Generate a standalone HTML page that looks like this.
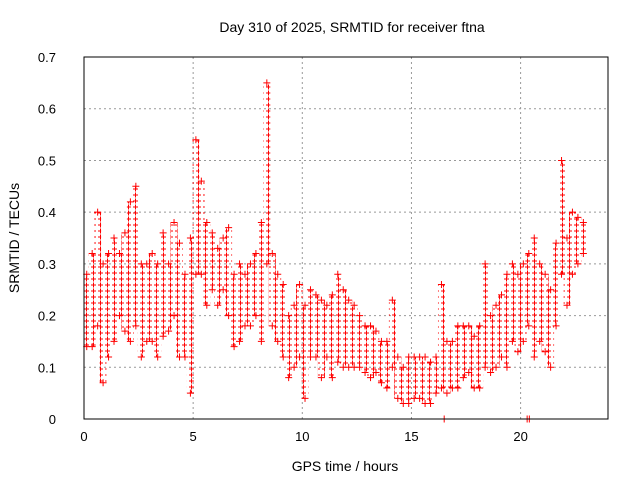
<!DOCTYPE html>
<html><head><meta charset="utf-8"><style>
body{margin:0;background:#fff}
svg{display:block;font-family:"Liberation Sans",sans-serif}
</style></head><body>
<svg id="c" width="640" height="480">
<defs>
<pattern id="pp" width="7" height="6" patternUnits="userSpaceOnUse">
<path d="M0 3h5M2.5 0.5v5" stroke="#f00" stroke-width="1" fill="none"/>
</pattern>
</defs>
<text x="352" y="32" font-size="14" text-anchor="middle">Day 310 of 2025, SRMTID for receiver ftna</text>
<text x="345" y="471" font-size="14" text-anchor="middle">GPS time / hours</text>
<text transform="translate(19,238) rotate(-90)" font-size="14" text-anchor="middle">SRMTID / TECUs</text>
<g id="grid"></g><g id="marks"></g>
<rect x="84" y="57" width="524" height="362" fill="none" stroke="#000" stroke-width="1"/>
</svg>
<script>
const times=[0,0.25,0.5,0.75,1,1.25,1.5,1.75,2,2.25,2.5,2.75,3,3.25,3.5,3.75,4,4.25,4.5,4.75,5,5.25,5.5,5.75,6,6.25,6.5,6.75,7,7.25,7.5,7.75,8,8.25,8.5,8.75,9,9.25,9.5,9.75,10,10.25,10.5,10.75,11,11.25,11.5,11.75,12,12.25,12.5,12.75,13,13.25,13.5,13.75,14,14.25,14.5,14.75,15,15.25,15.5,15.75,16,16.25,16.5,16.75,17,17.25,17.5,17.75,18,18.25,18.5,18.75,19,19.25,19.5,19.75,20,20.25,20.5,20.75,21,21.25,21.5,21.75,22,22.25,22.5,22.75];
const lowVals=[0.14,0.14,0.18,0.07,0.12,0.15,0.20,0.17,0.15,0.18,0.12,0.15,0.15,0.12,0.16,0.17,0.20,0.12,0.12,0.05,0.28,0.28,0.22,0.25,0.22,0.25,0.20,0.14,0.15,0.18,0.18,0.20,0.15,0.30,0.18,0.15,0.12,0.08,0.10,0.12,0.04,0.12,0.12,0.08,0.12,0.08,0.11,0.10,0.10,0.10,0.10,0.09,0.08,0.09,0.07,0.06,0.10,0.04,0.03,0.03,0.04,0.04,0.03,0.03,0.05,0.06,0.05,0.06,0.06,0.08,0.09,0.06,0.06,0.10,0.09,0.10,0.12,0.10,0.15,0.13,0.15,0.18,0.12,0.15,0.13,0.10,0.18,0.28,0.22,0.28,0.30,0.32];
const highVals=[0.28,0.32,0.40,0.30,0.32,0.35,0.32,0.36,0.42,0.45,0.30,0.30,0.32,0.30,0.36,0.30,0.38,0.34,0.28,0.35,0.54,0.46,0.38,0.36,0.33,0.35,0.37,0.28,0.30,0.28,0.30,0.32,0.38,0.65,0.32,0.28,0.26,0.20,0.22,0.26,0.22,0.25,0.24,0.23,0.22,0.24,0.28,0.25,0.23,0.22,0.20,0.18,0.18,0.17,0.15,0.15,0.23,0.12,0.10,0.12,0.12,0.12,0.12,0.11,0.12,0.26,0.15,0.15,0.18,0.18,0.18,0.16,0.18,0.30,0.20,0.22,0.24,0.28,0.30,0.28,0.30,0.32,0.35,0.30,0.28,0.25,0.34,0.50,0.35,0.40,0.39,0.38];
const zeroTimes=[16.5,20.3,20.4];
const xTicks=[0,5,10,15,20];
const yTicks=[0,0.1,0.2,0.3,0.4,0.5,0.6,0.7];
const yTickLabels=["0","0.1","0.2","0.3","0.4","0.5","0.6","0.7"];
const X=t=>84+t*21.83, Y=v=>419-v*517.1;
const NS="http://www.w3.org/2000/svg";
const grid=document.getElementById('grid'), marks=document.getElementById('marks');
function mk(tag,attrs,parent){const e=document.createElementNS(NS,tag);for(const k in attrs)e.setAttribute(k,attrs[k]);parent.appendChild(e);return e;}
xTicks.forEach(t=>{
 if(t>0){const l=mk('line',{x1:X(t),x2:X(t),y1:57,y2:419,stroke:'#999','stroke-dasharray':'2,3'},grid);
 
 }
 const tx=mk('text',{x:X(t),y:441,'font-size':13,'text-anchor':'middle'},grid);tx.textContent=t;
 
 
});
yTicks.forEach((v,i)=>{
 if(v>0){const l=mk('line',{x1:84,x2:608,y1:Y(v),y2:Y(v),stroke:'#999','stroke-dasharray':'2,3'},grid);
 
 }
 const tx=mk('text',{x:56,y:Y(v)+5,'font-size':13,'text-anchor':'end'},grid);tx.textContent=yTickLabels[i];
 
 
});
function plus(x,y){const p=mk('path',{d:`M${x-3.5} ${y}h7M${x} ${y-3.5}v7`,stroke:'#f00','stroke-width':1,fill:'none'},marks);
 
 }
times.forEach((t,i)=>{
 const x=X(t+0.125);
 const b=mk('rect',{x:x-3.5,y:Y(highVals[i]),width:7,height:Y(lowVals[i])-Y(highVals[i]),fill:'url(#pp)'},marks);
 
 
 plus(x,Y(highVals[i]));plus(x,Y(lowVals[i]));
});
zeroTimes.forEach(t=>plus(X(t),Y(0)));
</script>
</body></html>
